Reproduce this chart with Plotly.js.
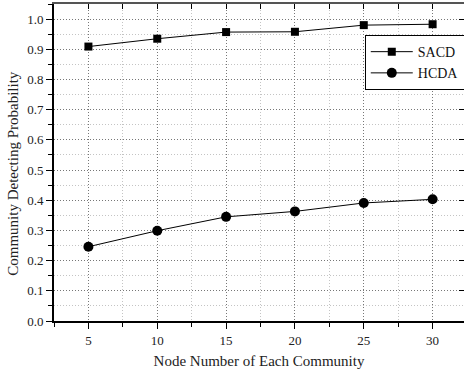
<!DOCTYPE html>
<html><head><meta charset="utf-8">
<script src="https://cdn.plot.ly/plotly-3.0.1.min.js"></script>
<style>html,body{margin:0;padding:0;overflow:hidden;background:#fff}</style>
</head><body>
<div id="chart" style="width:464px;height:369px"></div>
<script>
const nodeNumbers = [5, 10, 15, 20, 25, 30];
const sacd = [0.909, 0.935, 0.957, 0.958, 0.980, 0.983];
const hcda = [0.246, 0.299, 0.345, 0.363, 0.391, 0.403];
const yTickVals = [0, 0.1, 0.2, 0.3, 0.4, 0.5, 0.6, 0.7, 0.8, 0.9, 1.0];
const xTitle = 'Node Number of Each Community';
const yTitle = 'Community Detecting Probability';

const font = 'Liberation Serif, Times New Roman, serif';
const traces = [
  {x: nodeNumbers, y: sacd, name: 'SACD', mode: 'lines+markers',
   line: {color: '#000', width: 1}, marker: {symbol: 'square', size: 8, color: '#000'}},
  {x: nodeNumbers, y: hcda, name: 'HCDA', mode: 'lines+markers',
   line: {color: '#000', width: 1}, marker: {symbol: 'circle', size: 10, color: '#000'}},
  // invisible carrier so the mirrored top/right axes get drawn
  {x: nodeNumbers, y: sacd, xaxis: 'x2', yaxis: 'y2', mode: 'markers', showlegend: false,
   hoverinfo: 'skip', marker: {opacity: 0, size: 1}}
];
const xRange = [2.5, 32.28];
const yRange = [0, 1.05];
const layout = {
  width: 464, height: 369,
  margin: {l: 54, r: 0, t: 4, b: 48, autoexpand: false},
  paper_bgcolor: '#fff', plot_bgcolor: '#fff',
  font: {family: font, color: '#222', size: 12},
  showlegend: true,
  legend: {x: 0.758, y: 0.902, xanchor: 'left', yanchor: 'top',
    bordercolor: '#000', borderwidth: 1, bgcolor: '#fff',
    font: {family: font, size: 14, color: '#111'}, tracegroupgap: 0, itemwidth: 42},
  xaxis: {range: xRange, tickvals: nodeNumbers, ticks: 'outside', ticklen: 6, tickwidth: 1,
    tickcolor: '#000', showline: true, linecolor: '#000', linewidth: 2,
    showgrid: true, gridcolor: '#777', griddash: '1px,2px', gridwidth: 1, zeroline: false,
    tickfont: {family: font, size: 13, color: '#222'},
    minor: {dtick: 2.5, tick0: 2.5, ticks: 'outside', ticklen: 4, tickcolor: '#000', showgrid: true, gridcolor: '#c4c4c4', gridwidth: 1},
    title: {text: xTitle, font: {family: font, size: 15, color: '#222'}, standoff: 12}},
  yaxis: {range: yRange, tickvals: yTickVals, tickformat: '.1f', ticks: 'outside', ticklen: 6, tickwidth: 1,
    tickcolor: '#000', showline: true, linecolor: '#000', linewidth: 2,
    showgrid: true, gridcolor: '#777', griddash: '1px,2px', gridwidth: 1, zeroline: false,
    tickfont: {family: font, size: 13, color: '#222'},
    minor: {dtick: 0.05, tick0: 0, ticks: 'outside', ticklen: 4, tickcolor: '#000', showgrid: true, gridcolor: '#c4c4c4', gridwidth: 1}},
  xaxis2: {overlaying: 'x', side: 'top', anchor: 'y2', range: xRange, tickvals: nodeNumbers, ticks: 'inside', ticklen: 5,
    tickcolor: '#000', showticklabels: false, showline: true, linecolor: '#555', linewidth: 2, showgrid: false, zeroline: false,
    minor: {dtick: 2.5, tick0: 2.5, ticks: 'inside', ticklen: 5, tickcolor: '#000', showgrid: false}},
  yaxis2: {overlaying: 'y', side: 'right', anchor: 'x2', range: yRange, tickvals: yTickVals, ticks: 'inside', ticklen: 5,
    tickcolor: '#000', showticklabels: false, showline: false, showgrid: false, zeroline: false},
  annotations: [{text: yTitle, textangle: -90, xref: 'paper', yref: 'paper', x: -0.102, y: 0.465,
    xanchor: 'center', yanchor: 'middle', showarrow: false, font: {family: font, size: 15, color: '#222'}}]
};
Plotly.newPlot('chart', traces, layout, {displayModeBar: false, staticPlot: true});
</script>
</body></html>
